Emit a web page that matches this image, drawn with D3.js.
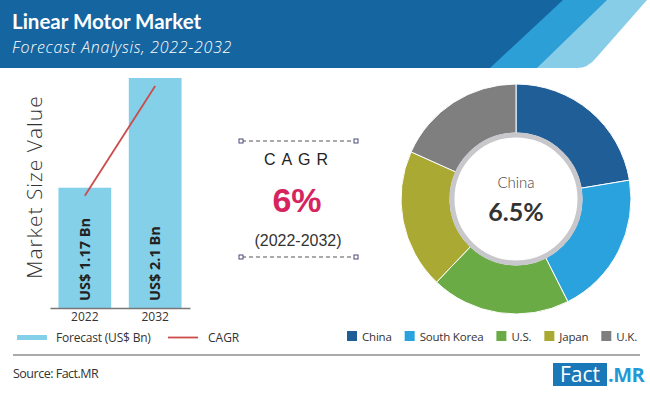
<!DOCTYPE html>
<meta charset="utf-8">
<head>
<style>
body { margin: 0; background: #fff; }
</style>
</head>
<body>
<svg width="650" height="395" font-family="Lato, sans-serif"></svg>
<script src="https://d3js.org/d3.v7.min.js"></script>
<script>

// data
var years = ["2022", "2032"];
var marketValues = [1.17, 2.1];
var barLabels = ["US$ 1.17 Bn", "US$ 2.1 Bn"];
var countries = ["China", "South Korea", "U.S.", "Japan", "U.K."];
var shares = [22.4, 20.2, 19.6, 19.6, 18.3];
var countryColors = ["#1f5e96", "#2aa2dd", "#6aab45", "#a9a933", "#7f7f7f"];
var cagrValue = "6%";
var cagrPeriod = "(2022-2032)";

var svg = d3.select("svg");
var sans = "Open Sans, sans-serif";

// header band with stripes
svg.append("rect").attr("x", 0).attr("y", 0).attr("width", 650).attr("height", 68).attr("fill", "#1565a0");
svg.append("path").attr("d", "M563,0 L650,0 L650,68 L490,68 Z").attr("fill", "#2b9fd6");
svg.append("path").attr("d", "M607,0 L650,0 L650,68 L537,68 Z").attr("fill", "#87cde8");
svg.append("path").attr("d", "M647,0 L650,0 L650,68 L577,68 Q588,68 596,58 Z").attr("fill", "#fff");

svg.append("text").attr("x", 12).attr("y", 29)
    .attr("fill", "#fff").attr("font-size", 20.5).attr("font-weight", "bold")
    .text("Linear Motor Market");
svg.append("text").attr("x", 12).attr("y", 53)
    .attr("fill", "#fff").attr("font-size", 16).attr("font-style", "italic")
    .attr("font-family", sans).attr("font-weight", 300).attr("letter-spacing", 0.7)
    .text("Forecast Analysis, 2022-2032");

// bar chart
var x = d3.scaleBand().domain(years).range([50, 190]).paddingInner(0.25).paddingOuter(0.12);
var y = d3.scaleLinear().domain([0.15, 2.1]).range([308, 78]);

svg.selectAll(".bar")
  .data(marketValues)
  .enter().append("rect")
    .attr("class", "bar")
    .attr("x", function(d, i) { return x(years[i]); })
    .attr("y", function(d) { return y(d); })
    .attr("width", x.bandwidth())
    .attr("height", function(d) { return 308 - y(d); })
    .attr("fill", "#84d0e8");

svg.selectAll(".barlabel")
  .data(barLabels)
  .enter().append("text")
    .attr("transform", function(d, i) {
      return "translate(" + (x(years[i]) + x.bandwidth() / 2 + 5) + ",301) rotate(-90)";
    })
    .attr("font-size", 14.5).attr("font-weight", "bold").attr("fill", "#222")
    .attr("font-family", sans)
    .text(function(d) { return d; });

var xAxis = svg.append("g").attr("transform", "translate(0,308)")
    .call(d3.axisBottom(x).tickSize(0).tickPadding(4));
xAxis.select(".domain").attr("stroke", "#777").attr("stroke-width", 1.5);
xAxis.selectAll("text").attr("font-size", 12).attr("fill", "#333")
    .attr("font-family", sans);

// cagr line
var lineData = marketValues.map(function(d, i) { return [years[i], d]; });
svg.append("path")
    .datum(lineData)
    .attr("fill", "none").attr("stroke", "#cc4b4b").attr("stroke-width", 1.8)
    .attr("d", d3.line()
        .x(function(d) { return x(d[0]) + x.bandwidth() / 2; })
        .y(function(d) { return y(d[1]) + 8; }));

svg.append("text")
    .attr("transform", "translate(42,187) rotate(-90)")
    .attr("text-anchor", "middle")
    .attr("font-size", 21).attr("font-weight", 300).attr("fill", "#333").attr("font-family", sans)
    .attr("letter-spacing", 1)
    .text("Market Size Value");

// bar legend
svg.append("rect").attr("x", 17).attr("y", 335).attr("width", 30).attr("height", 5).attr("fill", "#84d0e8");
svg.append("text").attr("x", 56).attr("y", 342).attr("font-size", 12).attr("fill", "#333")
    .attr("font-family", sans).attr("letter-spacing", -0.2).text("Forecast (US$ Bn)");
svg.append("line").attr("x1", 168).attr("x2", 198).attr("y1", 337.5).attr("y2", 337.5)
    .attr("stroke", "#cc4b4b").attr("stroke-width", 1.8);
svg.append("text").attr("x", 208).attr("y", 342).attr("font-size", 12).attr("fill", "#333")
    .attr("font-family", sans).text("CAGR");

// cagr box
[141, 257].forEach(function(yy) {
  svg.append("line").attr("x1", 242).attr("x2", 355).attr("y1", yy).attr("y2", yy)
      .attr("stroke", "#555").attr("stroke-dasharray", "4,3");
  [241, 356].forEach(function(xx) {
    svg.append("rect").attr("x", xx - 2).attr("y", yy - 2).attr("width", 4).attr("height", 4)
        .attr("fill", "#fff").attr("stroke", "#4a4a7a").attr("stroke-width", 1);
  });
});
svg.append("text").attr("x", 299).attr("y", 165).attr("text-anchor", "middle")
    .attr("font-size", 16).attr("letter-spacing", 6).attr("fill", "#222")
    .attr("font-family", "Liberation Sans, sans-serif").text("CAGR");
svg.append("text").attr("x", 297).attr("y", 212).attr("text-anchor", "middle")
    .attr("font-size", 34).attr("font-weight", "bold").attr("fill", "#d6245f")
    .attr("font-family", "Liberation Sans, sans-serif").text(cagrValue);
svg.append("text").attr("x", 298).attr("y", 246).attr("text-anchor", "middle")
    .attr("font-size", 16).attr("fill", "#333")
    .attr("font-family", "Liberation Sans, sans-serif").text(cagrPeriod);

// donut
var pie = d3.pie().sort(null);
var arc = d3.arc().innerRadius(66).outerRadius(115);
var g = svg.append("g").attr("transform", "translate(516,199)");
g.selectAll(".slice")
  .data(pie(shares))
  .enter().append("path")
    .attr("d", arc)
    .attr("fill", function(d, i) { return countryColors[i]; })
    .attr("stroke", "#fff").attr("stroke-width", 1);
g.append("circle").attr("r", 64).attr("fill", "#fff").attr("stroke", "#c8c8cc").attr("stroke-width", 5);
g.append("text").attr("y", -11).attr("text-anchor", "middle")
    .attr("font-size", 15).attr("font-weight", 300).attr("fill", "#444").text(countries[0]);
g.append("text").attr("y", 22).attr("text-anchor", "middle")
    .attr("font-size", 25).attr("font-weight", "bold").attr("fill", "#333").text("6.5%");

// donut legend
var lx = 347;
countries.forEach(function(c, i) {
  svg.append("rect").attr("x", lx).attr("y", 331).attr("width", 10).attr("height", 10)
      .attr("fill", countryColors[i]);
  var t = svg.append("text").attr("x", lx + 15).attr("y", 340.5).attr("font-size", 11.5)
      .attr("fill", "#333").attr("font-family", sans).attr("letter-spacing", -0.2).text(c);
  lx += 15 + t.node().getComputedTextLength() + 13;
});

// footer
svg.append("line").attr("x1", 13).attr("x2", 640).attr("y1", 355).attr("y2", 355)
    .attr("stroke", "#aaa").attr("stroke-width", 2);
svg.append("text").attr("x", 13).attr("y", 378).attr("font-size", 12.5).attr("fill", "#333")
    .attr("font-family", sans).attr("letter-spacing", -0.5).text("Source: Fact.MR");
svg.append("rect").attr("x", 553).attr("y", 363).attr("width", 54).attr("height", 23).attr("fill", "#1a78b8");
svg.append("text").attr("x", 580).attr("y", 382).attr("text-anchor", "middle")
    .attr("font-size", 21).attr("fill", "#fff").attr("font-family", sans).text("Fact");
svg.append("text").attr("x", 608).attr("y", 382)
    .attr("font-size", 20).attr("font-weight", "bold").attr("fill", "#1f9ad6")
    .attr("font-family", sans).attr("letter-spacing", -0.5).text(".MR");

</script>
</body>
</html>
